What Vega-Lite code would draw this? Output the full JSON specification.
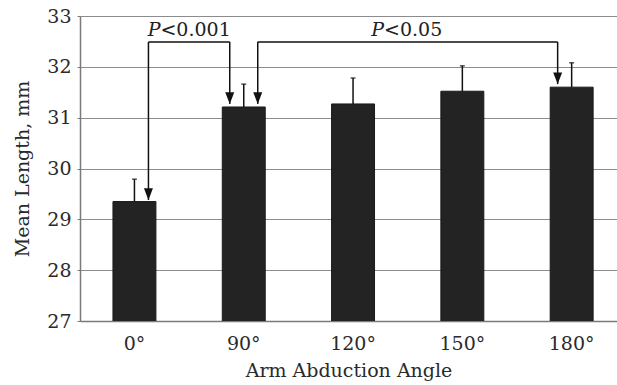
{
  "$schema": "https://vega.github.io/schema/vega-lite/v6.json",
  "width": 537,
  "height": 305,
  "autosize": "none",
  "padding": {"left": 80, "top": 16, "right": 0, "bottom": 64},
  "background": "white",
  "config": {
    "view": {"stroke": null},
    "font": "DejaVu Serif",
    "axis": {
      "labelFont": "DejaVu Serif",
      "labelFontSize": 19,
      "labelColor": "#2a2a2a",
      "titleFont": "DejaVu Serif",
      "titleFontSize": 19,
      "titleFontWeight": "normal",
      "titleColor": "#2a2a2a",
      "domainColor": "#7a7a7a",
      "domainWidth": 1.5,
      "gridColor": "#8c8c8c",
      "gridWidth": 1,
      "gridOpacity": 1
    }
  },
  "datasets": {
    "bars": [
      {"angle": "0°", "mean": 29.35, "upper": 29.79},
      {"angle": "90°", "mean": 31.21, "upper": 31.66},
      {"angle": "120°", "mean": 31.27, "upper": 31.78},
      {"angle": "150°", "mean": 31.52, "upper": 32.02},
      {"angle": "180°", "mean": 31.6, "upper": 32.08}
    ],
    "brackets": [
      {"from": "0°", "to": "90°", "level": 32.49, "tipFrom": 29.38, "tipTo": 31.27},
      {"from": "90°", "to": "180°", "level": 32.49, "tipFrom": 31.27, "tipTo": 31.66}
    ]
  },
  "encoding": {
    "x": {
      "field": "angle",
      "type": "nominal",
      "sort": ["0°", "90°", "120°", "150°", "180°"],
      "scale": {"domain": ["0°", "90°", "120°", "150°", "180°"], "paddingInner": 0.607, "paddingOuter": 0.26, "align": 0.58},
      "axis": {"title": "Arm Abduction Angle", "labelAngle": 0, "ticks": false, "labelPadding": 13, "titlePadding": 8, "grid": false}
    }
  },
  "layer": [
    {
      "data": {"name": "bars"},
      "mark": {"type": "bar", "color": "#232323", "stroke": "#1a1a1a", "strokeWidth": 1, "clip": true},
      "encoding": {
        "y": {
          "field": "mean",
          "type": "quantitative",
          "scale": {"domain": [27, 33], "nice": false, "zero": false},
          "axis": {"title": "Mean Length, mm", "values": [27, 28, 29, 30, 31, 32, 33], "tickSize": 3, "tickColor": "#7a7a7a", "labelPadding": 6, "titlePadding": 14, "grid": true}
        }
      }
    },
    {
      "data": {"name": "bars"},
      "mark": {"type": "rule", "color": "#111111", "strokeWidth": 1.5},
      "encoding": {
        "y": {"field": "mean", "type": "quantitative"},
        "y2": {"field": "upper"}
      }
    },
    {
      "data": {"name": "bars"},
      "mark": {"type": "tick", "color": "#111111", "size": 5, "thickness": 1.5},
      "encoding": {
        "y": {"field": "upper", "type": "quantitative"}
      }
    },
    {
      "data": {"name": "brackets"},
      "mark": {"type": "rule", "color": "#111111", "strokeWidth": 1.5, "xOffset": 14, "x2Offset": -14},
      "encoding": {
        "x": {"field": "from", "type": "nominal"},
        "x2": {"field": "to"},
        "y": {"field": "level", "type": "quantitative"}
      }
    },
    {
      "data": {"name": "brackets"},
      "mark": {"type": "rule", "color": "#111111", "strokeWidth": 1.5, "xOffset": 14},
      "encoding": {
        "x": {"field": "from", "type": "nominal"},
        "y": {"field": "level", "type": "quantitative"},
        "y2": {"field": "tipFrom"}
      }
    },
    {
      "data": {"name": "brackets"},
      "mark": {"type": "rule", "color": "#111111", "strokeWidth": 1.5, "xOffset": -14},
      "encoding": {
        "x": {"field": "to", "type": "nominal"},
        "y": {"field": "level", "type": "quantitative"},
        "y2": {"field": "tipTo"}
      }
    },
    {
      "data": {"name": "brackets"},
      "mark": {"type": "point", "filled": true, "color": "#111111", "opacity": 1, "shape": "M-1,-2.6L1,-2.6L0,0Z", "size": 81, "xOffset": 14},
      "encoding": {
        "x": {"field": "from", "type": "nominal"},
        "y": {"field": "tipFrom", "type": "quantitative"}
      }
    },
    {
      "data": {"name": "brackets"},
      "mark": {"type": "point", "filled": true, "color": "#111111", "opacity": 1, "shape": "M-1,-2.6L1,-2.6L0,0Z", "size": 81, "xOffset": -14},
      "encoding": {
        "x": {"field": "to", "type": "nominal"},
        "y": {"field": "tipTo", "type": "quantitative"}
      }
    },
    {
      "data": {"values": [{"at": "0°", "level": 32.49, "p": "P", "rest": "<0.001"}]},
      "layer": [
        {
          "mark": {"type": "text", "font": "DejaVu Serif", "fontSize": 19, "fontStyle": "italic", "align": "right", "baseline": "alphabetic", "dx": 26, "dy": -6, "color": "#222222"},
          "encoding": {"x": {"field": "at", "type": "nominal"}, "y": {"field": "level", "type": "quantitative"}, "text": {"field": "p"}}
        },
        {
          "mark": {"type": "text", "font": "DejaVu Serif", "fontSize": 19, "align": "left", "baseline": "alphabetic", "dx": 26, "dy": -6, "color": "#222222"},
          "encoding": {"x": {"field": "at", "type": "nominal"}, "y": {"field": "level", "type": "quantitative"}, "text": {"field": "rest"}}
        }
      ]
    },
    {
      "data": {"values": [{"at": "120°", "level": 32.49, "p": "P", "rest": "<0.05"}]},
      "layer": [
        {
          "mark": {"type": "text", "font": "DejaVu Serif", "fontSize": 19, "fontStyle": "italic", "align": "right", "baseline": "alphabetic", "dx": 31, "dy": -6, "color": "#222222"},
          "encoding": {"x": {"field": "at", "type": "nominal"}, "y": {"field": "level", "type": "quantitative"}, "text": {"field": "p"}}
        },
        {
          "mark": {"type": "text", "font": "DejaVu Serif", "fontSize": 19, "align": "left", "baseline": "alphabetic", "dx": 31, "dy": -6, "color": "#222222"},
          "encoding": {"x": {"field": "at", "type": "nominal"}, "y": {"field": "level", "type": "quantitative"}, "text": {"field": "rest"}}
        }
      ]
    }
  ]
}
